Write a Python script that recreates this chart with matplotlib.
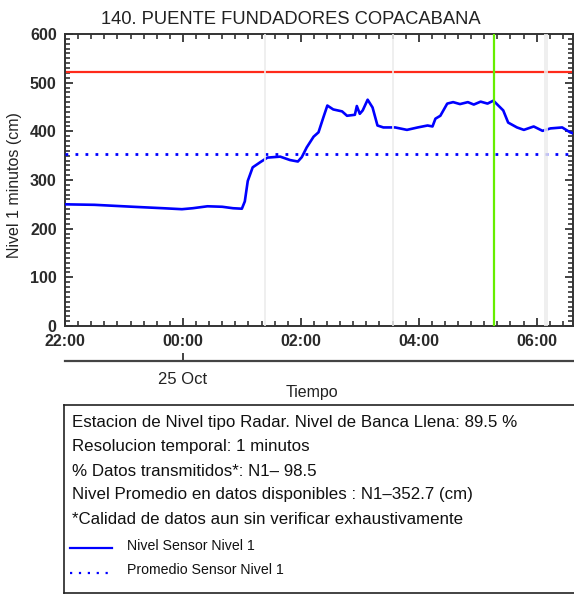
import matplotlib
matplotlib.use("Agg")
import matplotlib.pyplot as plt
import matplotlib.dates as mdates
from matplotlib.ticker import MultipleLocator
from datetime import datetime

plt.rcParams['font.family'] = ['Liberation Sans', 'DejaVu Sans']

# ---------------- data ----------------
title = "140. PUENTE FUNDADORES COPACABANA"
ylabel = "Nivel 1 minutos (cm)"
xlabel = "Tiempo"
date_label = "25 Oct"

times = ["24 22:00", "24 22:30", "24 23:09", "24 23:40", "24 23:59", "25 00:10", "25 00:25",
         "25 00:40", "25 00:51", "25 01:00", "25 01:03", "25 01:06", "25 01:11", "25 01:19",
         "25 01:26", "25 01:39", "25 01:49", "25 01:57", "25 02:01", "25 02:06", "25 02:13",
         "25 02:18", "25 02:23", "25 02:27", "25 02:33", "25 02:42", "25 02:47", "25 02:55",
         "25 02:57", "25 03:00", "25 03:03", "25 03:08", "25 03:13", "25 03:18", "25 03:24",
         "25 03:36", "25 03:48", "25 03:59", "25 04:09", "25 04:14", "25 04:17", "25 04:22",
         "25 04:29", "25 04:35", "25 04:42", "25 04:50", "25 04:56", "25 05:03", "25 05:10",
         "25 05:16", "25 05:21", "25 05:26",
         "25 05:31", "25 05:40", "25 05:47", "25 05:57", "25 06:06", "25 06:14", "25 06:26",
         "25 06:34", "25 06:37"]
nivel = [250, 249, 245, 242, 240, 242, 246,
         245, 242, 241, 256, 298, 326, 337,
         346, 348, 341, 338, 347, 367, 389,
         398, 429, 453, 445, 441, 432, 434,
         452, 436, 443, 465, 449, 412, 408,
         408, 403, 408, 412, 410, 426, 432,
         457, 460, 456, 460, 455, 461, 457,
         463, 453, 443,
         418, 408, 403, 410, 401, 406, 408,
         398, 396]

promedio = 352.7
banca_llena = 522
marker_time = "25 05:17"
gap_times = ["25 01:24", "25 03:34", "25 06:08", "25 06:11"]
x_start = "24 22:00"
x_end = "25 06:37"
y_min, y_max = 0, 600

info_lines = ["Estacion de Nivel tipo Radar. Nivel de Banca Llena: 89.5 %",
              "Resolucion temporal: 1 minutos",
              "% Datos transmitidos*: N1\u2013 98.5",
              "Nivel Promedio en datos disponibles : N1\u2013352.7 (cm)",
              "*Calidad de datos aun sin verificar exhaustivamente"]
legend_labels = ["Nivel Sensor Nivel 1", "Promedio Sensor Nivel 1"]


def parse(s):
    return datetime.strptime("2024 10 " + s, "%Y %m %d %H:%M")


t = [parse(s) for s in times]

W, H = 574, 596
fig = plt.figure(figsize=(W / 100, H / 100), dpi=100)


def fx(px):
    return px / W


def fy(py):
    return 1 - py / H


ax = fig.add_axes([fx(65), fy(326), fx(573) - fx(65), fy(34) - fy(326)])
ax.plot(t, nivel, color='#0000ff', lw=1.9, zorder=3, solid_joinstyle='round')
ax.axhline(promedio, color='#0000ff', lw=2.0, ls=(0, (1, 2.6)), zorder=3)
ax.axhline(banca_llena, color='#ff2a1a', lw=1.6, zorder=2)
for g in gap_times:
    ax.axvline(parse(g), color='#ececec', lw=1.2, zorder=4)
ax.axvline(parse(marker_time), color='#66ee00', lw=1.6, zorder=5)

ax.set_xlim(parse(x_start), parse(x_end))
ax.set_ylim(y_min, y_max)
ax.xaxis.set_major_locator(mdates.HourLocator(byhour=range(0, 24, 2)))
ax.xaxis.set_major_formatter(mdates.DateFormatter('%H:%M'))
ax.xaxis.set_minor_locator(MultipleLocator(2 / 24 / 9))
ax.yaxis.set_major_locator(MultipleLocator(100))
ax.yaxis.set_minor_locator(MultipleLocator(10))
ax.tick_params(which='both', direction='in', top=True, right=True, colors='#222222')
ax.tick_params(which='major', length=6, width=1.2, labelsize=11.5, pad=6)
ax.tick_params(which='minor', length=3.5, width=1.1)
for lbl in ax.get_xticklabels() + ax.get_yticklabels():
    lbl.set_fontweight('bold')
    lbl.set_color('#2a2a2a')
for sp in ax.spines.values():
    sp.set_linewidth(1.4)
    sp.set_color('#333333')
fig.text(fx(291), fy(19), title, ha='center', va='center', fontsize=13.2, color='#222222')
fig.text(fx(15), fy(185), ylabel, rotation=90, ha='center', va='center', fontsize=11.5,
         color='#222222')

# secondary date axis
ax2 = fig.add_axes([fx(65), fy(361), fx(573) - fx(65), 0.001])
ax2.set_xlim(parse(x_start), parse(x_end))
ax2.set_ylim(0, 1)
for k in ['top', 'left', 'right']:
    ax2.spines[k].set_visible(False)
ax2.spines['bottom'].set_linewidth(1.6)
ax2.spines['bottom'].set_color('#444444')
ax2.set_yticks([])
ax2.set_xticks([parse("25 00:00")])
ax2.set_xticklabels([date_label])
ax2.tick_params(axis='x', direction='in', length=6, width=1.2, labelsize=12, pad=8,
                colors='#222222')
ax2.patch.set_alpha(0)
fig.text(fx(312), fy(393), xlabel, ha='center', va='center', fontsize=11.5, color='#222222')

# info box
box = fig.add_axes([fx(64), fy(593), 1.2, fy(405) - fy(593)])
box.set_xticks([])
box.set_yticks([])
for sp in box.spines.values():
    sp.set_linewidth(1.2)
    sp.set_color('#222222')
for i, line in enumerate(info_lines):
    fig.text(fx(72), fy(423 + 24 * i), line, ha='left', va='center', fontsize=12.2,
             color='#111111')
fig.add_artist(plt.Line2D([fx(70), fx(112)], [fy(548), fy(548)], color='#0000ff', lw=1.6,
                          transform=fig.transFigure))
fig.add_artist(plt.Line2D([fx(70), fx(112)], [fy(573), fy(573)], color='#0000ff', lw=1.6,
                          ls=(0, (1, 3)), transform=fig.transFigure))
fig.text(fx(127), fy(546), legend_labels[0], ha='left', va='center', fontsize=10.2,
         color='#111111')
fig.text(fx(127), fy(570), legend_labels[1], ha='left', va='center', fontsize=10.2,
         color='#111111')

fig.savefig("out.png", dpi=100)
